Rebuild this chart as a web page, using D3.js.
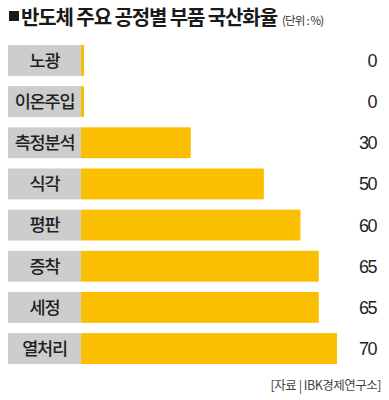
<!DOCTYPE html>
<html>
<head>
<meta charset="utf-8">
<script src="https://cdn.jsdelivr.net/npm/d3@7"></script>
<style>
  html, body { margin: 0; padding: 0; background: #fff; }
  svg { display: block; }
</style>
</head>
<body>
<div id="chart"></div>
<script>
// 반도체 주요 공정별 부품 국산화율 (단위: %)
const categories = ["노광", "이온주입", "측정분석", "식각", "평판", "증착", "세정", "열처리"];
const values = [0, 0, 30, 50, 60, 65, 65, 70];
const valueLabels = ["0", "0", "30", "50", "60", "65", "65", "70"];

const W = 389, H = 400;
const font = "'Noto Sans CJK KR', 'Noto Sans', sans-serif";

const svg = d3.select("#chart").append("svg")
  .attr("width", W).attr("height", H);

const labelX = 8, labelW = 73;
const barX0 = labelX + labelW;

const y = d3.scaleBand()
  .domain(categories)
  .range([45, 364])
  .paddingInner(0.25)
  .paddingOuter(0);

const x = d3.scaleLinear()
  .domain([0, 70])
  .range([barX0, barX0 + 256]);

// title
svg.append("rect").attr("x", 9).attr("y", 11).attr("width", 10).attr("height", 10).attr("fill", "#1a1a1a");
const title = svg.append("text")
  .attr("x", 21).attr("y", 25)
  .attr("font-family", font)
  .attr("fill", "#1a1a1a");
title.append("tspan")
  .attr("font-size", 20).attr("font-weight", 700).attr("letter-spacing", "-1.1px")
  .text("반도체 주요 공정별 부품 국산화율");
title.append("tspan")
  .attr("dx", 5)
  .attr("font-size", 11.5).attr("letter-spacing", "-0.8px").attr("fill", "#333")
  .text("(단위 : %)");

const rows = svg.append("g").selectAll("g")
  .data(categories)
  .join("g");

// category label boxes
rows.append("rect")
  .attr("x", labelX)
  .attr("y", d => y(d))
  .attr("width", labelW)
  .attr("height", y.bandwidth())
  .attr("fill", "#cdcdcd");

rows.append("text")
  .attr("x", labelX + labelW / 2)
  .attr("y", d => y(d) + y.bandwidth() / 2)
  .attr("dy", "0.36em")
  .attr("text-anchor", "middle")
  .attr("font-family", font)
  .attr("font-size", 17.5)
  .attr("font-weight", 500)
  .attr("letter-spacing", "-1.2px")
  .attr("fill", "#1f1f1f")
  .text(d => d);

// bars; zero values keep a thin stub
rows.append("rect")
  .attr("x", barX0)
  .attr("y", d => y(d))
  .attr("width", (d, i) => Math.max(3, x(values[i]) - barX0))
  .attr("height", y.bandwidth())
  .attr("fill", "#f9bf00");

// value labels
rows.append("text")
  .attr("x", 376)
  .attr("y", d => y(d) + y.bandwidth() / 2)
  .attr("dy", "0.36em")
  .attr("text-anchor", "end")
  .attr("font-family", "'Liberation Sans', Arial, sans-serif")
  .attr("font-size", 18)
  .attr("letter-spacing", "-1.5px")
  .attr("fill", "#1f1f1f")
  .text((d, i) => valueLabels[i]);

// source
svg.append("text")
  .attr("x", 381).attr("y", 390)
  .attr("text-anchor", "end")
  .attr("font-family", font)
  .attr("font-size", 12.5)
  .attr("letter-spacing", "-0.5px")
  .attr("fill", "#444")
  .text("[자료 | IBK경제연구소]");
</script>
</body>
</html>
